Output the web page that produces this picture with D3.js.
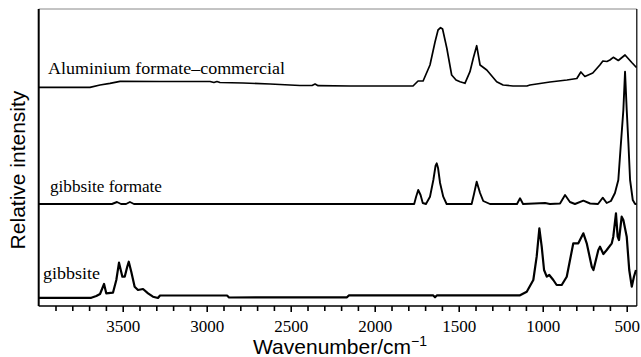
<!DOCTYPE html>
<html>
<head>
<meta charset="utf-8">
<script src="https://cdn.jsdelivr.net/npm/d3@7/dist/d3.min.js"></script>
<style>
  html, body { margin: 0; padding: 0; background: #fff; }
  svg { display: block; }
</style>
</head>
<body>
<div id="chart"></div>
<script>
// IR spectra, stacked traces (intensity in arbitrary units, offsets included)

const labelTicks = [3500, 3000, 2500, 2000, 1500, 1000, 500];
const minorTicks = d3.range(3900, 499, -100);

// Aluminium formate - commercial
const commercialWn = [4000, 3695, 3635, 3576, 3516, 3278, 2980, 2957, 2939, 2921, 2784, 2623, 2445, 2373, 2355, 2337, 2147,
  1772, 1742, 1712, 1671, 1641, 1623, 1608, 1596, 1571, 1542, 1516, 1492, 1463, 1433, 1413, 1393, 1373, 1333, 1274, 1236,
  1177, 1094, 1076, 957, 856, 797, 773, 749, 702, 660, 642, 618, 600, 580, 550, 510, 470, 442];
const commercialI = [218.7, 218.7, 221, 222.7, 224.7, 224.5, 224.5, 223.5, 224.5, 223.5, 223, 222, 220.5, 220.5, 222, 220.3, 220,
  220, 225, 225, 241, 264, 276, 278.3, 277, 258, 231, 226, 224.3, 222.7, 234.3, 248, 260.3, 241, 236, 224.3, 221,
  220, 220, 221, 224, 226, 227.5, 234, 229.5, 233, 241, 245, 244.5, 246, 248.7, 245.5, 251, 243.5, 238.5];

// gibbsite formate
const formateWn = [4000, 3564, 3534, 3510, 3480, 3457, 3433, 1780, 1765, 1754, 1741, 1727, 1714, 1695, 1671, 1651, 1638, 1631,
  1623, 1611, 1592, 1572, 1423, 1409, 1393, 1373, 1354, 1314, 1153, 1135, 1117, 986, 957, 897, 867, 838, 808, 758, 718, 671,
  643, 619, 594, 570, 550, 536, 520, 510, 500, 490, 480, 464, 450, 442];
const formateI = [102, 102, 104, 102, 102, 104, 102, 102, 102, 109, 116, 111, 103, 102, 109.3, 126, 140, 142.7,
  138, 123, 109.3, 102, 102, 112, 124.3, 113, 105, 102, 102, 107.7, 102, 103, 102, 102.5, 111, 104, 102, 105.3, 102.5, 102,
  108.3, 103, 105, 113, 126, 159.3, 196, 234.3, 196, 163, 126, 106, 102, 102];

// gibbsite
const gibbsiteWn = [4000, 3687, 3657, 3635, 3611, 3598, 3558, 3538, 3522, 3502, 3488, 3473, 3464, 3449, 3429, 3409, 3379, 3349,
  3320, 3290, 3278, 2879, 2867, 2165, 2153, 1653, 1641, 1629, 1135, 1095, 1056, 1036, 1020, 1006, 992, 976, 961, 937, 917,
  887, 857, 818, 788, 758, 738, 708, 698, 669, 659, 639, 619, 589, 580, 564, 554, 546, 530, 520, 500, 485, 470, 457, 445];
const gibbsiteI = [8.2, 8.2, 10, 12, 22, 12.7, 13.3, 26, 43.3, 29.3, 29.3, 39.3, 44.3, 34.3, 19.3, 16, 17, 12.7,
  9.3, 8, 10.5, 10.5, 8.5, 8.7, 10.7, 10.7, 8.7, 10.7, 10.7, 14.3, 26, 49.3, 77.7, 59.3, 36, 29.3, 31, 26, 21,
  21, 29.3, 62.7, 62.7, 72.7, 62.7, 39.3, 36, 56, 59.3, 52, 56, 62.7, 69.3, 92.7, 69.3, 66, 89.3, 86, 69.3, 36, 19.3, 29.3, 36];

const seriesNames = ['Aluminium formate\u2013commercial', 'gibbsite formate', 'gibbsite'];

const W = 641, H = 357;
const plotLeft = 38.7, plotRight = 636.8, plotTop = 9, plotBottom = 306;

const svg = d3.select('#chart').append('svg')
    .attr('width', W)
    .attr('height', H);

const x = d3.scaleLinear().domain([4000, 440]).range([plotLeft, plotRight]);
const y = d3.scaleLinear().domain([0, 297]).range([plotBottom, plotTop]);

const line = d3.line()
    .x(d => x(d[0]))
    .y(d => y(d[1]));

const traces = [
  { wn: commercialWn, val: commercialI, width: 1.7 },
  { wn: formateWn, val: formateI, width: 1.9 },
  { wn: gibbsiteWn, val: gibbsiteI, width: 2.2 }
];

svg.append('g')
  .selectAll('path')
  .data(traces)
  .join('path')
    .attr('d', d => line(d.wn.map((w, i) => [w, d.val[i]])))
    .attr('fill', 'none')
    .attr('stroke', '#000')
    .attr('stroke-width', d => d.width)
    .attr('stroke-linejoin', 'round');

// frame
svg.append('line').attr('x1', plotLeft).attr('x2', plotRight).attr('y1', plotTop).attr('y2', plotTop)
    .attr('stroke', '#888').attr('stroke-width', 1);
svg.append('line').attr('x1', plotLeft).attr('x2', plotLeft).attr('y1', plotTop).attr('y2', plotBottom)
    .attr('stroke', '#000').attr('stroke-width', 2);
svg.append('line').attr('x1', plotRight).attr('x2', plotRight).attr('y1', plotTop).attr('y2', plotBottom)
    .attr('stroke', '#000').attr('stroke-width', 1.2);

// x axis
const xAxis = d3.axisBottom(x)
    .tickValues(minorTicks)
    .tickSize(5)
    .tickSizeOuter(0)
    .tickPadding(9)
    .tickFormat(d => labelTicks.includes(d) ? d : '');

const gx = svg.append('g')
    .attr('transform', `translate(0,${plotBottom})`)
    .call(xAxis);
gx.select('.domain').attr('stroke', '#000').attr('stroke-width', 1.6)
    .attr('d', `M${plotLeft},0H${plotRight}`);
gx.selectAll('.tick line')
    .attr('stroke-width', 1.6)
    .attr('y2', d => labelTicks.includes(d) ? 6 : 5);
gx.selectAll('.tick text')
    .attr('font-family', '"Liberation Serif", "Times New Roman", serif')
    .attr('font-size', 17)
    .attr('fill', '#000');

// series labels (widths matched to the scan)
const labelPos = [[48, 74, 237], [50, 192, 112], [43, 279, 57]];
svg.append('g')
  .selectAll('text')
  .data(seriesNames)
  .join('text')
    .attr('x', (d, i) => labelPos[i][0])
    .attr('y', (d, i) => labelPos[i][1])
    .attr('textLength', (d, i) => labelPos[i][2])
    .attr('lengthAdjust', 'spacingAndGlyphs')
    .attr('font-family', '"Liberation Serif", "Times New Roman", serif')
    .attr('font-size', 17)
    .attr('fill', '#000')
    .text(d => d);

// axis titles
svg.append('text')
    .attr('transform', 'translate(25,170) rotate(-90)')
    .attr('text-anchor', 'middle')
    .attr('font-family', '"Liberation Sans", Arial, Helvetica, sans-serif')
    .attr('font-size', 21)
    .attr('fill', '#000')
    .text('Relative intensity');

const xt = svg.append('text')
    .attr('x', 340)
    .attr('y', 354)
    .attr('text-anchor', 'middle')
    .attr('font-family', '"Liberation Sans", Arial, Helvetica, sans-serif')
    .attr('font-size', 21)
    .attr('fill', '#000');
xt.append('tspan').text('Wavenumber/cm');
xt.append('tspan').attr('dy', -8).attr('font-size', 14).text('\u22121');
</script>
</body>
</html>
